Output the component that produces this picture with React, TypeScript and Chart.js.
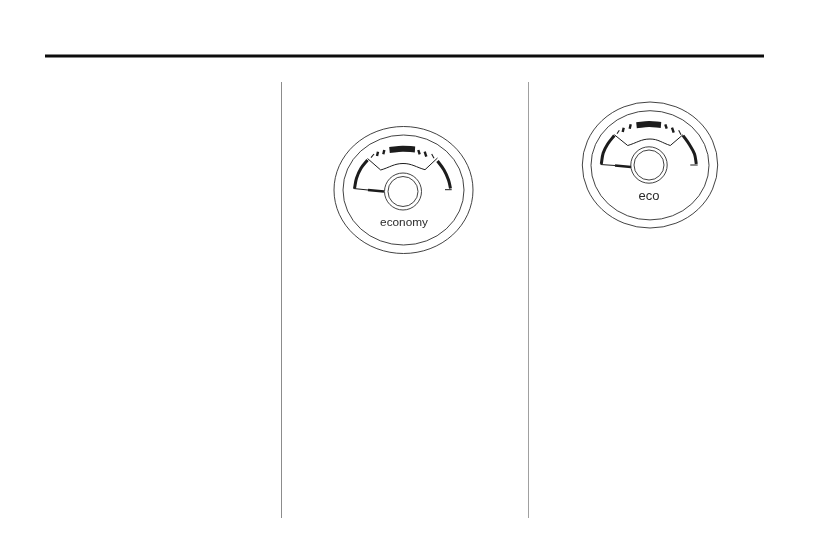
import React, { useEffect, useRef } from "react";
import { Chart, registerables } from "chart.js";

Chart.register(...registerables);

type P = { x: number; y: number };
const pts = (a: number[][]): P[] => a.map(([x, y]) => ({ x, y }));

// Page rules
const headerRule = [[45, 56], [764, 56]];
const columnRuleA = [[281.5, 82], [281.5, 518]];
const columnRuleB = [[528.5, 82], [528.5, 518]];

// Left gauge ("economy")
const economyLeftArc = [[354.5, 188.5], [356.5, 178.3], [361, 168.3], [367.5, 160]];
const economyRightArc = [[437.5, 161], [444, 170], [448.5, 180], [450.5, 188.5]];
const economyEndTick = [[445, 189.7], [451.7, 189.7]];
const economyNeedleThin = [[353.5, 188.5], [368, 190]];
const economyNeedleThick = [[368, 190], [384, 191.5]];
const economyInnerEdge = [[367.5, 158.5], [380.7, 170], [403, 163.5], [425, 169.7], [437.5, 158]];
const economyTopBar = [[389.5, 150], [402.5, 148.7], [415, 149.5]];
const economyThinTicks = [
  [[371, 157.7], [374, 154]],
  [[431.7, 154], [434, 158.3]],
];
const economyThickTicks = [
  [[377, 156], [378, 151.7]],
  [[383.3, 154.3], [384.3, 150]],
  [[418.3, 150], [419.7, 154.3]],
  [[424.7, 151.7], [426.3, 156.7]],
];

// Right gauge ("eco")
const ecoLeftArc = [[601.3, 164], [603.2, 153], [607.7, 144], [614.3, 135.5]];
const ecoRightArc = [[683, 135.5], [689.7, 145], [694.5, 154], [696.3, 164]];
const ecoEndTick = [[690.3, 165], [697.7, 165]];
const ecoNeedleThin = [[600.5, 164.5], [615, 165.5]];
const ecoNeedleThick = [[615, 165.5], [631, 167]];
const ecoInnerEdge = [[614.3, 134.7], [627.7, 145.5], [650, 139], [670.3, 145.5], [683, 134.7]];
const ecoTopBar = [[636.5, 125.3], [649, 124], [661, 125]];
const ecoThinTicks = [
  [[617, 133.7], [619.3, 130.3]],
  [[678.7, 130.3], [681, 134.7]],
];
const ecoThickTicks = [
  [[622.7, 132], [623.7, 127.7]],
  [[629.7, 128.7], [630.7, 124.3]],
  [[665.3, 124.3], [666.7, 128.7]],
  [[672, 127.7], [673.7, 132.7]],
];

// Rings: [centre x, centre y, radius x, radius y]
const economyRings = [
  [403.5, 190, 69.5, 63.5],
  [403.5, 190, 60.5, 55],
  [403, 191.5, 18.5, 18.5],
  [403, 191.5, 15, 15],
];
const ecoRings = [
  [650, 165, 67.7, 63],
  [650, 165.3, 59, 54.6],
  [649, 165, 18.2, 18.2],
  [649, 165, 15, 15],
];

// Captions
const captionTexts = ["economy", "eco"];
const captionX = [404, 649];
const captionY = [222.5, 196];
const captionSize = [11.8, 13];

const INK = "#1c1c1c";

const seg = (d: number[][], width: number, color = INK, tension = 0) => ({
  data: pts(d),
  borderColor: color,
  borderWidth: width,
  tension,
  pointRadius: 0,
  fill: false,
  showLine: true,
  borderCapStyle: "butt" as const,
});

const diagramPlugin = {
  id: "diagram",
  afterDatasetsDraw(chart: any) {
    const { ctx, scales } = chart;
    const sx = scales.x;
    const sy = scales.y;
    ctx.save();
    ctx.strokeStyle = "#2e2e2e";
    ctx.lineWidth = 0.9;
    [...economyRings, ...ecoRings].forEach(([cx, cy, rx, ry]) => {
      const px = sx.getPixelForValue(cx);
      const py = sy.getPixelForValue(cy);
      const prx = Math.abs(sx.getPixelForValue(cx + rx) - px);
      const pry = Math.abs(sy.getPixelForValue(cy + ry) - py);
      ctx.beginPath();
      ctx.ellipse(px, py, prx, pry, 0, 0, Math.PI * 2);
      ctx.stroke();
    });
    ctx.fillStyle = "#2a2a2a";
    ctx.textAlign = "center";
    ctx.textBaseline = "middle";
    captionTexts.forEach((t, i) => {
      ctx.font = `${captionSize[i]}px "Liberation Sans", Arial, sans-serif`;
      ctx.fillText(t, sx.getPixelForValue(captionX[i]), sy.getPixelForValue(captionY[i]));
    });
    ctx.restore();
  },
};

export default function App() {
  const ref = useRef<HTMLCanvasElement>(null);
  useEffect(() => {
    document.body.style.margin = "0";
    document.body.style.background = "#fff";
    const chart = new Chart(ref.current!, {
      type: "scatter",
      data: {
        datasets: [
          seg(headerRule, 3, "#0c0c0c"),
          seg(columnRuleA, 1, "#8c8c8c"),
          seg(columnRuleB, 1, "#a0a0a0"),
          seg(economyLeftArc, 3, INK, 0.35),
          seg(economyRightArc, 3, INK, 0.35),
          seg(economyEndTick, 1),
          seg(economyNeedleThin, 1.2),
          seg(economyNeedleThick, 2.4),
          seg(economyInnerEdge.slice(0, 2), 1),
          seg(economyInnerEdge.slice(1, 4), 1, INK, 0.4),
          seg(economyInnerEdge.slice(3), 1),
          seg(economyTopBar, 6, INK, 0.4),
          ...economyThinTicks.map((t) => seg(t, 1.1)),
          ...economyThickTicks.map((t) => seg(t, 2.4)),
          seg(ecoLeftArc, 3, INK, 0.35),
          seg(ecoRightArc, 3, INK, 0.35),
          seg(ecoEndTick, 1),
          seg(ecoNeedleThin, 1.2),
          seg(ecoNeedleThick, 2.4),
          seg(ecoInnerEdge.slice(0, 2), 1),
          seg(ecoInnerEdge.slice(1, 4), 1, INK, 0.4),
          seg(ecoInnerEdge.slice(3), 1),
          seg(ecoTopBar, 6, INK, 0.4),
          ...ecoThinTicks.map((t) => seg(t, 1.1)),
          ...ecoThickTicks.map((t) => seg(t, 2.4)),
        ],
      },
      options: {
        animation: false,
        responsive: false,
        devicePixelRatio: 1,
        layout: { padding: 0 },
        plugins: { legend: { display: false }, tooltip: { enabled: false }, title: { display: false } },
        scales: {
          x: { type: "linear", display: false, min: 0, max: 826 },
          y: { type: "linear", display: false, min: 0, max: 553, reverse: true },
        },
      },
      plugins: [diagramPlugin],
    } as any);
    return () => chart.destroy();
  }, []);
  return <canvas ref={ref} width={826} height={553} style={{ display: "block" }} />;
}
